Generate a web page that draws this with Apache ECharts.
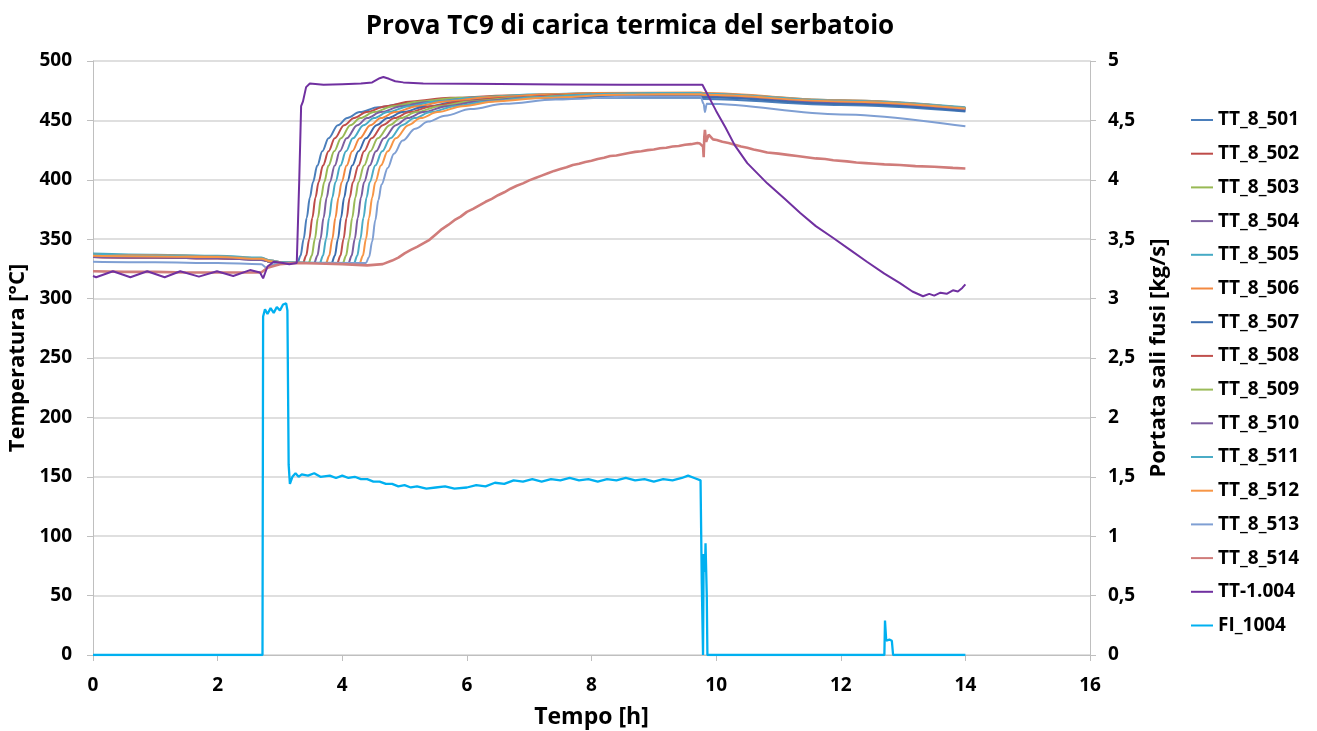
<!DOCTYPE html>
<html><head><meta charset="utf-8">
<script src="https://cdn.jsdelivr.net/npm/echarts@6/dist/echarts.min.js"></script>
<style>html,body{margin:0;padding:0;background:#fff}#c{width:1317px;height:731px}</style>
</head><body><div id="c"></div>
<script>
// ---- data: [time h, value] ----
const names = ['TT_8_501','TT_8_502','TT_8_503','TT_8_504','TT_8_505','TT_8_506','TT_8_507','TT_8_508','TT_8_509','TT_8_510','TT_8_511','TT_8_512','TT_8_513','TT_8_514','TT-1.004','FI_1004'];
const xTicks = [0,2,4,6,8,10,12,14,16];
const tt501 = [[0,336],[1,335],[2,334.5],[2.7,333],[2.85,331],[3.05,330],[3.28,330],[3.33,336],[3.38,350],[3.43,368],[3.48,385],[3.53,398],[3.6,412],[3.68,424],[3.78,435],[3.93,446],[4.08,452],[4.28,457],[4.58,461],[4.98,464],[5.58,466.5],[6.48,468.5],[8,469],[9.75,469],[9.8,468],[12,463],[14,457.5]];
const tt502 = [[0,335],[1,334.5],[2,334],[2.7,333],[2.85,331],[3.05,330],[3.37,330],[3.42,336],[3.47,350],[3.52,368],[3.57,385],[3.62,398],[3.69,412],[3.78,424],[3.88,435],[4.03,446],[4.19,452],[4.39,457],[4.7,462],[5.11,466],[5.73,469],[6.66,471],[8,472],[9.75,472],[9.8,471.5],[12,466],[14,460]];
const tt503 = [[0,336],[1,335.5],[2,334.5],[2.7,333.5],[2.85,331],[3.05,330],[3.46,330],[3.51,336],[3.56,350],[3.61,368],[3.66,385],[3.71,398],[3.78,412],[3.87,424],[3.98,435],[4.13,446],[4.29,452],[4.51,457],[4.82,462],[5.25,466],[5.88,469],[6.84,471],[8,472],[9.75,472],[9.8,471.5],[12,466.5],[14,460.5]];
const tt504 = [[0,335],[1,334.5],[2,334],[2.7,332.5],[2.85,331],[3.05,330],[3.55,330],[3.6,336],[3.65,350],[3.7,368],[3.75,385],[3.8,398],[3.88,412],[3.96,424],[4.07,435],[4.24,446],[4.4,452],[4.62,457],[4.95,462],[5.38,465.5],[6.04,468.5],[7.02,470.5],[8,471],[9.75,471],[9.8,470.5],[12,465],[14,459]];
const tt505 = [[0,338],[1,337],[2,336],[2.7,334.5],[2.85,332],[3.05,330.5],[3.64,330],[3.69,336],[3.74,350],[3.79,368],[3.84,385],[3.89,398],[3.97,412],[4.06,424],[4.17,435],[4.34,446],[4.51,452],[4.73,457],[5.07,462],[5.51,466],[6.19,469.5],[7.19,472],[8,473],[9.75,473],[9.8,472.5],[12,467],[14,461]];
const tt506 = [[0,337],[1,336.5],[2,335.5],[2.7,334],[2.85,332],[3.05,330.5],[3.74,330],[3.79,336],[3.84,350],[3.89,368],[3.94,385],[3.99,398],[4.07,412],[4.16,424],[4.28,435],[4.45,446],[4.62,452],[4.85,457],[5.2,462],[5.66,466],[6.35,469.5],[7.38,472],[8,473],[9.75,473.5],[9.8,473],[12,467],[14,460.5]];
const tt507 = [[0,336],[1,335],[2,334.5],[2.7,333],[2.85,331],[3.05,330],[3.83,330],[3.88,336],[3.93,350],[3.98,368],[4.03,385],[4.08,398],[4.16,412],[4.26,424],[4.38,435],[4.55,446],[4.73,452],[4.97,457],[5.32,461.5],[5.79,465],[6.5,468],[7.56,470],[8,470],[9.75,470],[9.8,469.5],[12,464],[14,458]];
const tt508 = [[0,335],[1,334.5],[2,334],[2.7,333],[2.85,331],[3.05,330],[3.92,330],[3.97,336],[4.02,350],[4.07,368],[4.12,385],[4.17,398],[4.26,412],[4.35,424],[4.47,435],[4.65,446],[4.84,452],[5.08,457],[5.44,462],[5.93,466],[6.65,469],[7.74,471.5],[8.5,472],[9.75,472],[9.8,471.5],[12,466],[14,460]];
const tt509 = [[0,336],[1,335.5],[2,334.5],[2.7,333.5],[2.85,331],[3.05,330],[4.01,330],[4.06,336],[4.11,350],[4.16,368],[4.21,385],[4.26,398],[4.35,412],[4.45,424],[4.57,435],[4.76,446],[4.94,452],[5.19,457],[5.56,462],[6.06,466],[6.8,469],[7.92,471.5],[8.6,472],[9.75,472],[9.8,471.5],[12,466],[14,460]];
const tt510 = [[0,335],[1,334.5],[2,334],[2.7,332.5],[2.85,331],[3.05,330],[4.1,330],[4.15,336],[4.2,350],[4.25,368],[4.3,385],[4.35,398],[4.44,412],[4.54,424],[4.67,435],[4.86,446],[5.05,452],[5.3,457],[5.68,462],[6.19,466],[6.95,469],[8.1,471.5],[8.8,472],[9.75,472],[9.8,471.5],[12,465.5],[14,459.5]];
const tt511 = [[0,337],[1,336],[2,335.5],[2.7,334],[2.85,332],[3.05,330.5],[4.19,330],[4.24,336],[4.29,350],[4.34,368],[4.39,385],[4.44,398],[4.53,412],[4.64,424],[4.77,435],[4.96,446],[5.16,452],[5.42,457],[5.81,462],[6.33,466],[7.11,469.5],[8.28,472.5],[9,473],[9.75,473],[9.8,472.5],[12,466.5],[14,460.5]];
const tt512 = [[0,336],[1,335.5],[2,335],[2.7,333.5],[2.85,331.5],[3.05,330],[4.28,330],[4.33,336],[4.38,350],[4.43,368],[4.48,385],[4.53,398],[4.62,412],[4.73,424],[4.86,435],[5.06,446],[5.26,452],[5.53,457],[5.93,462],[6.46,466],[7.26,469],[8.45,471.5],[9.1,472],[9.75,472],[9.8,471.5],[12,466],[14,460]];
const tt513 = [[0,331],[1,330.5],[2,330],[2.7,329],[2.78,326],[2.9,329],[3.1,330],[4.38,330],[4.43,335],[4.48,348],[4.53,366],[4.58,383],[4.63,396],[4.73,410],[4.83,422],[4.97,433],[5.17,443],[5.38,449],[5.65,454],[6.06,459.5],[6.6,464],[7.42,467.5],[8.64,470],[9.75,470],[9.8,464],[9.82,457],[9.85,464],[12,455],[14,445]];
const tt514 = [[0,323],[0.5,322.5],[1,322.5],[1.5,322],[2,322],[2.7,322],[2.8,326],[3.0,329],[3.25,330],[3.6,329.5],[4.0,329],[4.4,328],[4.65,329],[4.8,332],[4.9,334.5],[5.0,338],[5.1,341],[5.2,343.5],[5.3,346.5],[5.4,349.5],[5.5,354],[5.6,358.5],[5.7,362],[5.8,366],[5.9,369],[6.0,373],[6.1,375.5],[6.2,378.5],[6.3,381.5],[6.4,384],[6.5,387],[6.6,389.5],[6.7,392.5],[6.8,395],[6.9,397],[7.0,399.5],[7.1,401.5],[7.2,403.5],[7.3,405.5],[7.4,407.5],[7.5,409],[7.6,410.5],[7.7,412.5],[7.8,413.5],[7.9,415],[8.0,416],[8.1,417.5],[8.2,418.5],[8.3,420],[8.4,420.5],[8.5,421.5],[8.6,422.5],[8.7,423.5],[8.8,424],[8.9,425],[9.0,425.5],[9.1,426.5],[9.2,427],[9.3,428],[9.4,428.5],[9.5,429.5],[9.6,430],[9.7,431],[9.74,430.5],[9.79,428],[9.8,419],[9.81,436],[9.82,442],[9.84,432],[9.88,438],[9.95,434],[10.01,433.5],[10.1,432],[10.2,431],[10.3,429.5],[10.4,428],[10.5,427],[10.6,425.5],[10.7,424.5],[10.82,423],[11.0,422],[11.15,421],[11.3,420],[11.45,419],[11.6,418],[11.75,417.5],[11.88,416.5],[12.1,415.5],[12.25,414.5],[12.4,414],[12.55,413.5],[12.7,413],[12.95,412.5],[13.2,411.5],[13.5,411],[13.8,410],[14,409.5]];
const tt1004 = [[0,319],[0.05,318],[0.32,323],[0.6,318],[0.87,323],[1.15,318],[1.4,323],[1.7,318.5],[1.99,323],[2.25,319],[2.52,324],[2.68,322],[2.73,317],[2.76,317],[2.8,327],[2.9,331],[3.05,330],[3.15,329],[3.27,330],[3.31,400],[3.34,462],[3.37,466],[3.42,478],[3.48,481],[3.7,480],[4.0,480.5],[4.3,481],[4.48,482],[4.6,485.5],[4.66,486.5],[4.75,485],[4.85,483],[4.98,482],[5.3,481],[6.0,480.8],[6.53,480.6],[7.5,480.3],[8.5,480],[9.3,480],[9.78,480],[9.85,473],[9.92,466],[10.0,458],[10.15,444],[10.3,429],[10.5,414],[10.82,397],[11.1,384],[11.35,372],[11.6,361],[11.88,351],[12.15,341],[12.42,331],[12.7,321],[12.95,313],[13.15,306],[13.32,302],[13.42,304],[13.5,302.5],[13.6,305],[13.7,304],[13.8,307],[13.88,306],[13.95,309],[14.0,312]];
const fi1004 = [[0,0],[2.72,0],[2.73,2.85],[2.76,2.91],[2.8,2.87],[2.85,2.92],[2.9,2.88],[2.95,2.93],[3.0,2.9],[3.05,2.95],[3.1,2.96],[3.12,2.9],[3.14,1.6],[3.16,1.44],[3.2,1.5],[3.25,1.53],[3.3,1.5],[3.35,1.52],[3.45,1.51],[3.55,1.53],[3.65,1.5],[3.8,1.51],[3.9,1.49],[4.0,1.51],[4.1,1.49],[4.2,1.5],[4.3,1.48],[4.4,1.48],[4.5,1.46],[4.6,1.46],[4.7,1.44],[4.8,1.44],[4.9,1.42],[5.0,1.43],[5.1,1.41],[5.2,1.42],[5.35,1.4],[5.5,1.41],[5.65,1.42],[5.8,1.4],[6.0,1.41],[6.15,1.43],[6.3,1.42],[6.45,1.45],[6.6,1.44],[6.75,1.47],[6.9,1.46],[7.05,1.48],[7.2,1.46],[7.35,1.48],[7.5,1.47],[7.65,1.49],[7.8,1.47],[7.95,1.48],[8.1,1.46],[8.25,1.48],[8.4,1.47],[8.55,1.49],[8.7,1.47],[8.85,1.48],[9.0,1.46],[9.15,1.48],[9.3,1.47],[9.45,1.49],[9.55,1.51],[9.65,1.49],[9.75,1.47],[9.77,0.6],[9.79,0],[9.8,0.85],[9.82,0.7],[9.83,0.94],[9.85,0.5],[9.86,0],[12.7,0],[12.71,0.29],[12.73,0.12],[12.78,0.13],[12.82,0.12],[12.84,0],[14,0]];

const seriesData = [tt501,tt502,tt503,tt504,tt505,tt506,tt507,tt508,tt509,tt510,tt511,tt512,tt513,tt514,tt1004,fi1004];
const colors = ['#4A7EBB','#BE4B48','#98B954','#7D60A0','#46AAC5','#F38940','#3B6CAE','#C0504D','#9BBB59','#7B5C9F','#4BACC6','#F79646','#7F9FD3','#D07C7A','#7030A0','#00B0F0'];

const FONT = 'Open Sans';
const chart = echarts.init(document.getElementById('c'), null, {renderer:'canvas'});
const series = seriesData.map((d,i)=>({
  name: names[i], type:'line', data:d, showSymbol:false, symbol:'none',
  yAxisIndex: i===15 ? 1 : 0,
  smooth: (i<13) ? 0.35 : false, smoothMonotone:'x',
  lineStyle:{width: i===13 ? 2.6 : (i===15 ? 2.3 : 2), color: colors[i]},
  itemStyle:{color: colors[i]},
  z: i===15 ? 5 : 2
}));
chart.setOption({
  animation:false,
  color: colors,
  title:{text:'Prova TC9 di carica termica del serbatoio', left:625, top:9, textAlign:'center',
    textStyle:{fontFamily:FONT, fontSize:26, fontWeight:'bold', color:'#000'}},
  grid:{left:93, right:227, top:61, bottom:76, containLabel:false, outerBoundsMode:'none'},
  legend:{orient:'vertical', left:1186, top:103, itemWidth:22, itemHeight:2, itemGap:9.7, icon:'rect',
    textStyle:{fontFamily:FONT, fontSize:19, fontWeight:'bold', color:'#000', lineHeight:24}},
  xAxis:{type:'value', min:0, max:16, interval:2,
    name:'Tempo [h]', nameLocation:'middle', nameGap:51,
    nameTextStyle:{fontFamily:FONT, fontSize:23, fontWeight:'bold', color:'#000'},
    axisLine:{show:true, lineStyle:{color:'#bfbfbf', width:1}},
    axisTick:{show:true, length:6, lineStyle:{color:'#bfbfbf'}},
    axisLabel:{fontFamily:FONT, fontSize:19, fontWeight:'bold', color:'#000', margin:21},
    splitLine:{show:false}},
  yAxis:[
    {type:'value', min:0, max:500, interval:50, position:'left',
     name:'Temperatura [°C]', nameLocation:'middle', nameGap:60,
     nameTextStyle:{fontFamily:FONT, fontSize:22, fontWeight:'bold', color:'#000'},
     axisLine:{show:true, lineStyle:{color:'#bfbfbf'}},
     axisTick:{show:true, length:6, lineStyle:{color:'#bfbfbf'}},
     axisLabel:{fontFamily:FONT, fontSize:19, fontWeight:'bold', color:'#000', margin:21},
     splitLine:{show:true, lineStyle:{color:'#d4d4d4', width:1.5}}},
    {type:'value', min:0, max:5, interval:0.5, position:'right',
     name:'Portata sali fusi [kg/s]', nameLocation:'middle', nameGap:58,
     nameTextStyle:{fontFamily:FONT, fontSize:22, fontWeight:'bold', color:'#000'},
     axisLine:{show:true, lineStyle:{color:'#bfbfbf'}},
     axisTick:{show:true, length:6, lineStyle:{color:'#bfbfbf'}},
     axisLabel:{fontFamily:FONT, fontSize:19, fontWeight:'bold', color:'#000', margin:18,
       formatter:v=>String(v).replace('.',',')},
     splitLine:{show:false}}
  ],
  series: series
});
</script></body></html>
